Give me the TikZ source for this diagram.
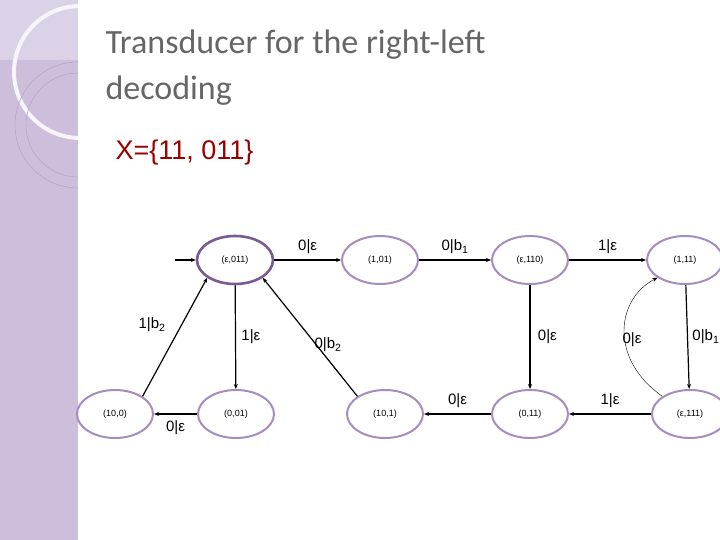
\documentclass[tikz,border=0pt]{standalone}
\usepackage{fontspec}
\setmainfont{Liberation Sans}
\newfontfamily\titlefont{Carlito}
\usetikzlibrary{arrows.meta,shapes.geometric}
\definecolor{strip}{HTML}{CDBFDC}
\definecolor{edgeP}{HTML}{A58DBF}
\definecolor{darkP}{HTML}{7A5A95}
\begin{document}
\begin{tikzpicture}[x=1pt,y=-1pt,
  st/.style={ellipse,draw=edgeP,line width=2pt,minimum width=76pt,minimum height=48pt,inner sep=0pt,font=\fontsize{9}{10}\selectfont},
  ed/.style={line width=1.2pt,-{Stealth[length=5pt,width=4pt]}},
  lb/.style={font=\fontsize{15}{17}\selectfont}]
\useasboundingbox (0,0) rectangle (720,540);
\fill[white] (0,0) rectangle (720,540);
\fill[strip] (0,0) rectangle (78,540);
\fill[strip!70!white] (0,0) rectangle (78,60);
\begin{scope}
\clip (0,0) rectangle (78,540);
\draw[white!85!strip,line width=4pt] (80,72) circle (66);
\draw[edgeP!80!white,line width=0.6pt] (78,125) circle (63);
\draw[edgeP!80!white,line width=0.6pt] (78,125) circle (52);
\end{scope}
\node[anchor=west,text=black!60,font=\titlefont\fontsize{34}{46}\selectfont,align=left] (title) at (102,68) {Transducer for the right-left\\decoding};
\node[anchor=west,text=red!60!black,font=\fontsize{27}{30}\selectfont] (xs) at (112,153) {X=\{11, 011\}};
\node[st,draw=darkP,line width=2.6pt] (a) at (235,260) {(ε,011)};
\node[st] (b) at (380,260) {(1,01)};
\node[st] (c) at (530,260) {(ε,110)};
\node[st] (d) at (685,260) {(1,11)};
\node[st] (e) at (115,414) {(10,0)};
\node[st] (f) at (236,414) {(0,01)};
\node[st] (g) at (385,414) {(10,1)};
\node[st] (h) at (530,414) {(0,11)};
\node[st] (i) at (690,414) {(ε,111)};
\coordinate (s) at (175,260);
\draw[ed] (s) -- (a);
\draw[ed] (a) -- node[lb,above=2pt]{0|ε} (b);
\draw[ed] (b) -- node[lb,above=2pt]{0|b\textsubscript{1}} (c);
\draw[ed] (c) -- node[lb,above=2pt]{1|ε} (d);
\draw[ed] (d) -- node[lb,right=1pt]{0|b\textsubscript{1}} (i);
\draw[ed] (i) -- node[lb,above=2pt]{1|ε} (h);
\draw[thin,-{Stealth[length=5pt,width=4pt]}] (i.north west) .. controls (610,360) and (615,300) .. (d.south west);
\node[lb] (lcurve) at (632,340) {0|ε};
\draw[ed] (c) -- node[lb,right=4pt]{0|ε} (h);
\draw[ed] (h) -- node[lb,above=2pt]{0|ε} (g);
\draw[ed] (g.north west) -- (a.south east);
\node[lb] (l2) at (328,345) {0|b\textsubscript{2}};
\draw[ed] (a) -- node[lb,right=2pt]{1|ε} (f);
\draw[ed] (f) -- node[lb,below=3pt]{0|ε} (e);
\draw[ed] (e.north east) -- (a.south west);
\node[lb] (l1) at (152,325) {1|b\textsubscript{2}};
\end{tikzpicture}
\end{document}
